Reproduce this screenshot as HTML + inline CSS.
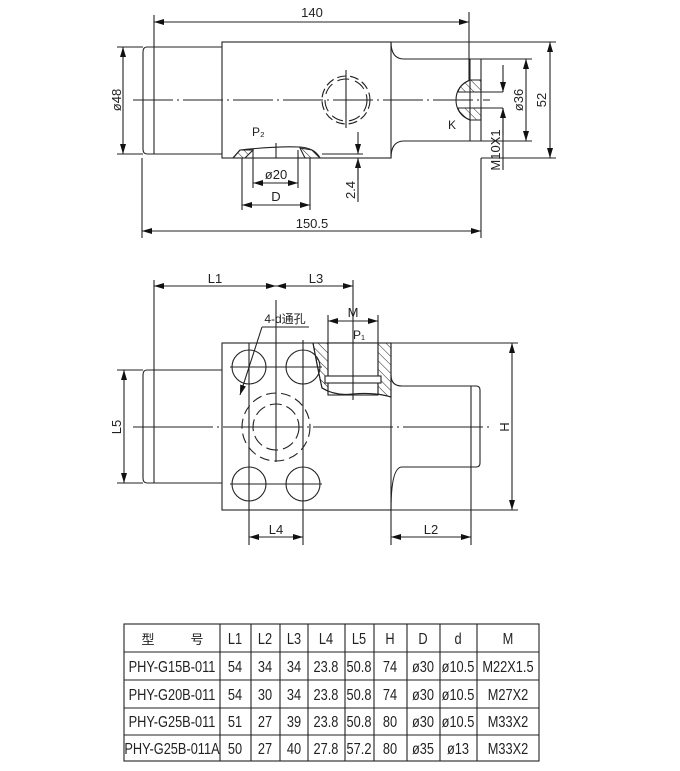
<!DOCTYPE html>
<html><head><meta charset="utf-8"><style>
html,body{margin:0;padding:0;background:#fff;}
svg{display:block;}
text{font-family:"Liberation Sans","Noto Sans CJK SC",sans-serif;fill:#222;}
</style></head><body>
<svg width="680" height="771" viewBox="0 0 680 771" xmlns="http://www.w3.org/2000/svg">
<defs>
<marker id="a" viewBox="0 0 10 6" refX="10" refY="3" markerWidth="10" markerHeight="6" orient="auto-start-reverse" markerUnits="userSpaceOnUse"><path d="M0,0 L10,3 L0,6z" fill="#111"/></marker>
<pattern id="h" width="6" height="6" patternUnits="userSpaceOnUse" patternTransform="rotate(-45)"><line x1="0" y1="0" x2="0" y2="6" stroke="#222" stroke-width="1"/></pattern>
</defs>
<g stroke="#222" stroke-width="1.1" fill="none">
<!-- TOP VIEW -->
<rect x="222" y="42" width="169" height="116"/>
<path d="M222,47 H147 Q143,47 143,52 V149 Q143,154 147,154 H222"/>
<line x1="154" y1="47" x2="154" y2="154"/>
<path d="M391,42 Q391,59 404,59 H481 V141 H404 Q391,141 391,158"/>
<line x1="470" y1="59" x2="470" y2="141"/>
<path d="M481,80 H470 Q456,86 456,100 Q456,114 470,120 H481" />
<path d="M481,80 H470 Q460,84 458,92 H481z M458,108 Q460,116 470,120 H481 V108z" fill="url(#h)"/>
<line x1="458" y1="92" x2="503" y2="92"/><line x1="458" y1="108" x2="503" y2="108"/>
<line x1="133" y1="100" x2="490" y2="100" stroke-dasharray="40,4,2,4"/>
<circle cx="346" cy="100" r="24" stroke-dasharray="9,4"/>
<circle cx="346" cy="100" r="21" stroke-dasharray="12,6"/>
<line x1="346" y1="70" x2="346" y2="128"/>
<path d="M233,158 L240,150 Q277,146 300,147 Q315,148 320,158" />
<path d="M233,158 L240,150 H253 L245,158z M300,148 L312,150 L320,158 H305z" fill="url(#h)"/>
<line x1="276" y1="143" x2="276" y2="158"/>
<line x1="322" y1="154" x2="363" y2="154"/>
<line x1="154" y1="15" x2="154" y2="47"/><line x1="469" y1="12" x2="469" y2="80"/>
<line x1="154" y1="22" x2="469" y2="22" marker-start="url(#a)" marker-end="url(#a)"/>
<line x1="117" y1="47" x2="143" y2="47"/><line x1="117" y1="154" x2="143" y2="154"/>
<line x1="123" y1="47" x2="123" y2="154" marker-start="url(#a)" marker-end="url(#a)"/>
<line x1="391" y1="42" x2="556" y2="42"/><line x1="481" y1="158" x2="556" y2="158"/>
<line x1="550" y1="42" x2="550" y2="158" marker-start="url(#a)" marker-end="url(#a)"/>
<line x1="481" y1="59" x2="532" y2="59"/><line x1="481" y1="141" x2="532" y2="141"/>
<line x1="526" y1="59" x2="526" y2="141" marker-start="url(#a)" marker-end="url(#a)"/>
<line x1="503" y1="65" x2="503" y2="92" marker-end="url(#a)"/><line x1="503" y1="108" x2="503" y2="170"/>
<line x1="503" y1="135" x2="503" y2="108" marker-end="url(#a)"/>
<line x1="142" y1="158" x2="142" y2="238"/><line x1="481" y1="158" x2="481" y2="238"/>
<line x1="142" y1="231" x2="481" y2="231" marker-start="url(#a)" marker-end="url(#a)"/>
<line x1="253" y1="150" x2="253" y2="188"/><line x1="298" y1="150" x2="298" y2="188"/>
<line x1="253" y1="183" x2="298" y2="183" marker-start="url(#a)" marker-end="url(#a)"/>
<line x1="242" y1="158" x2="242" y2="210"/><line x1="310" y1="158" x2="310" y2="210"/>
<line x1="242" y1="205" x2="310" y2="205" marker-start="url(#a)" marker-end="url(#a)"/>
<line x1="358" y1="132" x2="358" y2="154" marker-end="url(#a)"/>
<line x1="358" y1="180" x2="358" y2="158" marker-end="url(#a)"/>
<line x1="358" y1="158" x2="358" y2="202"/>

<!-- BOTTOM VIEW -->
<rect x="222" y="343" width="169" height="167"/>
<path d="M222,370 H147 Q143,370 143,375 V478 Q143,483 147,483 H222"/>
<line x1="154" y1="370" x2="154" y2="483"/>
<path d="M391,375 Q391,386 402,386 H476 Q480,386 480,390 V463 Q480,467 476,467 H402 Q391,467 391,510"/>
<line x1="471" y1="386" x2="471" y2="467"/>
<line x1="133" y1="427" x2="490" y2="427" stroke-dasharray="80,4,2,4"/>
<circle cx="249" cy="367" r="17"/><circle cx="303" cy="367" r="17"/>
<circle cx="249" cy="484" r="17"/><circle cx="303" cy="484" r="17"/>
<circle cx="276" cy="427" r="34" stroke-dasharray="10,5"/>
<circle cx="276" cy="427" r="23" stroke-dasharray="12,5"/>
<line x1="276" y1="300" x2="276" y2="462"/>
<line x1="249" y1="343" x2="249" y2="545"/><line x1="303" y1="340" x2="303" y2="545"/>
<line x1="230" y1="367" x2="322" y2="367"/><line x1="230" y1="484" x2="322" y2="484"/>
<path d="M313,343 Q318,370 322,388 Q335,396 352,394 Q375,392 391,397 V343z" fill="url(#h)"/>
<rect x="328" y="343" width="50" height="52" fill="#fff"/>
<path d="M313,343 Q318,370 322,388 Q335,396 352,394 Q375,392 391,397"/>
<line x1="328" y1="343" x2="328" y2="395"/><line x1="378" y1="343" x2="378" y2="395"/>
<rect x="325" y="376" width="56" height="7" fill="#fff"/>
<line x1="353" y1="325" x2="353" y2="400"/>
<line x1="154" y1="280" x2="154" y2="370"/><line x1="353" y1="280" x2="353" y2="325"/>
<line x1="154" y1="286" x2="276" y2="286" marker-start="url(#a)" marker-end="url(#a)"/>
<line x1="276" y1="286" x2="353" y2="286" marker-start="url(#a)" marker-end="url(#a)"/>
<line x1="328" y1="315" x2="328" y2="343"/><line x1="378" y1="315" x2="378" y2="343"/>
<line x1="328" y1="321" x2="378" y2="321" marker-start="url(#a)" marker-end="url(#a)"/>
<line x1="309" y1="327" x2="262" y2="327"/>
<line x1="262" y1="327" x2="240" y2="395" marker-end="url(#a)"/>
<line x1="117" y1="370" x2="143" y2="370"/><line x1="117" y1="483" x2="143" y2="483"/>
<line x1="124" y1="370" x2="124" y2="483" marker-start="url(#a)" marker-end="url(#a)"/>
<line x1="391" y1="343" x2="518" y2="343"/><line x1="391" y1="510" x2="518" y2="510"/>
<line x1="512" y1="343" x2="512" y2="510" marker-start="url(#a)" marker-end="url(#a)"/>
<line x1="249" y1="537" x2="303" y2="537" marker-start="url(#a)" marker-end="url(#a)"/>
<line x1="391" y1="510" x2="391" y2="545"/><line x1="471" y1="467" x2="471" y2="545"/>
<line x1="391" y1="537" x2="471" y2="537" marker-start="url(#a)" marker-end="url(#a)"/>

<!-- TABLE -->
<rect x="124" y="624" width="415" height="137"/>
<line x1="124" y1="652" x2="539" y2="652"/><line x1="124" y1="680" x2="539" y2="680"/>
<line x1="124" y1="708" x2="539" y2="708"/><line x1="124" y1="735" x2="539" y2="735"/>
<line x1="220" y1="624" x2="220" y2="761"/><line x1="251" y1="624" x2="251" y2="761"/>
<line x1="280" y1="624" x2="280" y2="761"/><line x1="308" y1="624" x2="308" y2="761"/>
<line x1="345" y1="624" x2="345" y2="761"/><line x1="374" y1="624" x2="374" y2="761"/>
<line x1="407" y1="624" x2="407" y2="761"/><line x1="440" y1="624" x2="440" y2="761"/>
<line x1="477" y1="624" x2="477" y2="761"/>
</g>
<g font-size="13">
<text x="312" y="17" text-anchor="middle">140</text>
<text x="312" y="228" text-anchor="middle">150.5</text>
<text x="276" y="179" text-anchor="middle">ø20</text>
<text x="276" y="201" text-anchor="middle">D</text>
<text x="252" y="136" font-size="12">P₂</text>
<text x="448" y="129" font-size="12">K</text>
<text transform="translate(121,100) rotate(-90)" text-anchor="middle">ø48</text>
<text transform="translate(546,100) rotate(-90)" text-anchor="middle">52</text>
<text transform="translate(523,100) rotate(-90)" text-anchor="middle">ø36</text>
<text transform="translate(500,150) rotate(-90)" text-anchor="middle">M10X1</text>
<text transform="translate(355,190) rotate(-90)" text-anchor="middle">2.4</text>
<text x="215" y="283" text-anchor="middle">L1</text>
<text x="316" y="283" text-anchor="middle">L3</text>
<text x="353" y="317" text-anchor="middle">M</text>
<text x="359" y="339" text-anchor="middle" font-size="12">P₁</text>
<text x="285" y="323" text-anchor="middle" font-size="12">4-d通孔</text>
<text transform="translate(121,427) rotate(-90)" text-anchor="middle">L5</text>
<text transform="translate(509,427) rotate(-90)" text-anchor="middle">H</text>
<text x="276" y="534" text-anchor="middle">L4</text>
<text x="431" y="534" text-anchor="middle">L2</text>
</g>
<text x="148" y="644" font-size="13" text-anchor="middle">型</text><text x="197" y="644" font-size="13" text-anchor="middle">号</text>
<g font-size="16" text-anchor="middle" transform="scale(0.8,1)">
<text x="293.75" y="644">L1</text><text x="331.25" y="644">L2</text><text x="367.5" y="644">L3</text><text x="407.5" y="644">L4</text><text x="448.75" y="644">L5</text><text x="487.5" y="644">H</text><text x="528.75" y="644">D</text><text x="572.5" y="644">d</text><text x="635" y="644">M</text>
<text x="215" y="672">PHY-G15B-011</text><text x="293.75" y="672">54</text><text x="331.25" y="672">34</text><text x="367.5" y="672">34</text><text x="407.5" y="672">23.8</text><text x="448.75" y="672">50.8</text><text x="487.5" y="672">74</text><text x="528.75" y="672">ø30</text><text x="572.5" y="672">ø10.5</text><text x="635" y="672">M22X1.5</text>
<text x="215" y="700">PHY-G20B-011</text><text x="293.75" y="700">54</text><text x="331.25" y="700">30</text><text x="367.5" y="700">34</text><text x="407.5" y="700">23.8</text><text x="448.75" y="700">50.8</text><text x="487.5" y="700">74</text><text x="528.75" y="700">ø30</text><text x="572.5" y="700">ø10.5</text><text x="635" y="700">M27X2</text>
<text x="215" y="727">PHY-G25B-011</text><text x="293.75" y="727">51</text><text x="331.25" y="727">27</text><text x="367.5" y="727">39</text><text x="407.5" y="727">23.8</text><text x="448.75" y="727">50.8</text><text x="487.5" y="727">80</text><text x="528.75" y="727">ø30</text><text x="572.5" y="727">ø10.5</text><text x="635" y="727">M33X2</text>
<text x="215" y="754">PHY-G25B-011A</text><text x="293.75" y="754">50</text><text x="331.25" y="754">27</text><text x="367.5" y="754">40</text><text x="407.5" y="754">27.8</text><text x="448.75" y="754">57.2</text><text x="487.5" y="754">80</text><text x="528.75" y="754">ø35</text><text x="572.5" y="754">ø13</text><text x="635" y="754">M33X2</text>
</g>
</svg>
</body></html>
